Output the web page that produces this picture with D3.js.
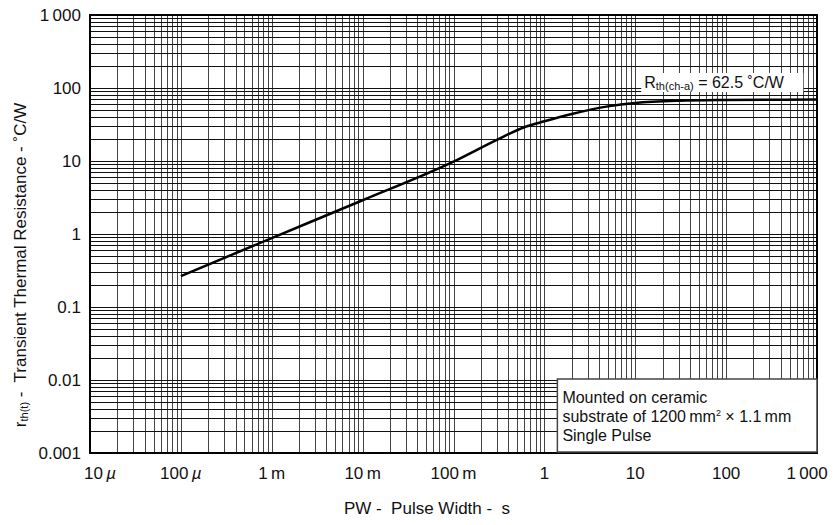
<!DOCTYPE html>
<html>
<head>
<meta charset="UTF-8">
<title>Transient Thermal Resistance</title>
<script src="https://d3js.org/d3.v7.min.js"></script>
<style>
  body { margin: 0; background: #fff; }
  text { font-family: "Liberation Sans", Arial, sans-serif; fill: #111; white-space: pre; }
</style>
</head>
<body>
<div id="chart"></div>
<script>
// curve (pulse width in s, r_th in C/W)
const pulseWidth = [1e-4, 1e-3, 1e-2, 0.1, 0.3, 0.6, 1, 2, 5, 10, 30, 100, 1000];
const rth = [0.265, 0.88, 2.9, 9.8, 19.5, 29, 35, 44, 56, 62.5, 67, 68.5, 69.5];

const xTicks = [1e-5, 1e-4, 1e-3, 1e-2, 1e-1, 1, 10, 100, 1000];
const xTickLabels = [["10", "\u00b5"], ["100", "\u00b5"], ["1", "m"], ["10", "m"], ["100", "m"], ["1", ""], ["10", ""], ["100", ""], ["1\u2009000", ""]];
const yTicks = [0.001, 0.01, 0.1, 1, 10, 100, 1000];
const yTickLabels = ["0.001", "0.01", "0.1", "1", "10", "100", "1\u2009000"];

const W = 835, H = 525;
const margin = {top: 15, right: 18, bottom: 72, left: 90};
const width = W - margin.left - margin.right;
const height = H - margin.top - margin.bottom;

const svg = d3.select("#chart").append("svg")
  .attr("width", W).attr("height", H);
const g = svg.append("g")
  .attr("transform", `translate(${margin.left},${margin.top})`);

const x = d3.scaleLog().domain([1e-5, 1e3]).range([0, width]);
const y = d3.scaleLog().domain([1e-3, 1e3]).range([height, 0]);

// log grid: 1..9 in every decade
const gridX = [], gridY = [];
for (let e = -5; e < 3; e++) for (let k = 1; k <= 9; k++) gridX.push(k * Math.pow(10, e));
for (let e = -3; e < 3; e++) for (let k = 1; k <= 9; k++) gridY.push(k * Math.pow(10, e));

g.selectAll("line.gx").data(gridX).join("line")
  .attr("class", "gx")
  .attr("x1", d => Math.round(x(d)) + 0.5).attr("x2", d => Math.round(x(d)) + 0.5)
  .attr("y1", 0).attr("y2", height)
  .attr("stroke", "#444").attr("stroke-width", 1);

g.selectAll("line.gy").data(gridY).join("line")
  .attr("class", "gy")
  .attr("y1", d => Math.round(y(d)) + 0.5).attr("y2", d => Math.round(y(d)) + 0.5)
  .attr("x1", 0).attr("x2", width)
  .attr("stroke", "#111").attr("stroke-width", 1);

// frame
g.append("rect")
  .attr("x", 0).attr("y", 0).attr("width", width).attr("height", height)
  .attr("fill", "none").attr("stroke", "#000").attr("stroke-width", 2);

// curve
const pts = pulseWidth.map((p, i) => [p, rth[i]]);
g.append("path")
  .datum(pts)
  .attr("fill", "none")
  .attr("stroke", "#000")
  .attr("stroke-width", 2.5)
  .attr("d", d3.line().x(d => x(d[0])).y(d => y(d[1])).curve(d3.curveMonotoneX));

// Rth label box
const lab = g.append("g").attr("transform", `translate(${x(10) + 6},${y(100) - 15})`);
lab.append("rect").attr("x", 0).attr("y", 0).attr("width", 162).attr("height", 19).attr("fill", "#fff");
const lt = lab.append("text").attr("x", 3).attr("y", 15).style("font-size", "16px");
lt.append("tspan").text("R");
lt.append("tspan").attr("dy", 2).style("font-size", "11px").text("th(ch-a)");
lt.append("tspan").attr("dy", -2).text(" = 62.5 \u02daC/W");

// condition box
const box = g.append("g").attr("transform", `translate(${x(1) + 13},${y(0.01) - 1})`);
box.append("rect")
  .attr("x", 0).attr("y", 0).attr("width", width - x(1) - 13).attr("height", height - y(0.01))
  .attr("fill", "#fff").attr("stroke", "#444").attr("stroke-width", 1.5);
const bt = box.append("text").style("font-size", "16px");
bt.append("tspan").attr("x", 5).attr("y", 24).text("Mounted on ceramic");
const l2 = bt.append("tspan").attr("x", 5).attr("y", 43).text("substrate of 1200\u2009mm");
l2.append("tspan").attr("dy", -6).style("font-size", "9px").text("2");
l2.append("tspan").attr("dy", 6).text(" \u00d7 1.1\u2009mm");
bt.append("tspan").attr("x", 5).attr("y", 62).text("Single Pulse");

// x tick labels (end labels nudged inward like the original)
const nudge = i => i === 0 ? 10 : (i === xTicks.length - 1 ? -10 : 0);
g.selectAll("text.xt").data(xTicks).join("text")
  .attr("class", "xt")
  .attr("x", (d, i) => x(d) + nudge(i))
  .attr("y", height + 26)
  .attr("text-anchor", "middle")
  .style("font-size", "17px")
  .each(function(d, i) {
    const t = d3.select(this);
    const [num, unit] = xTickLabels[i];
    t.append("tspan").text(num);
    if (unit === "\u00b5") t.append("tspan").style("font-style", "italic").text("\u2009" + unit);
    else if (unit) t.append("tspan").text("\u2009" + unit);
  });

// y tick labels
g.selectAll("text.yt").data(yTicks).join("text")
  .attr("class", "yt")
  .attr("x", -9)
  .attr("y", d => y(d) + 6)
  .attr("text-anchor", "end")
  .style("font-size", "17px")
  .text((d, i) => yTickLabels[i]);

// axis titles
svg.append("text")
  .attr("x", 427).attr("y", 514)
  .attr("text-anchor", "middle")
  .style("font-size", "17px")
  .text("PW -  Pulse Width -  s");

const yt = svg.append("text")
  .attr("transform", "translate(26,265) rotate(-90)")
  .attr("text-anchor", "middle")
  .style("font-size", "17px");
yt.append("tspan").text("r");
yt.append("tspan").attr("dy", 2).style("font-size", "11px").text("th(t)");
yt.append("tspan").attr("dy", -2).text(" -  Transient Thermal Resistance - \u02daC/W");
</script>
</body>
</html>
